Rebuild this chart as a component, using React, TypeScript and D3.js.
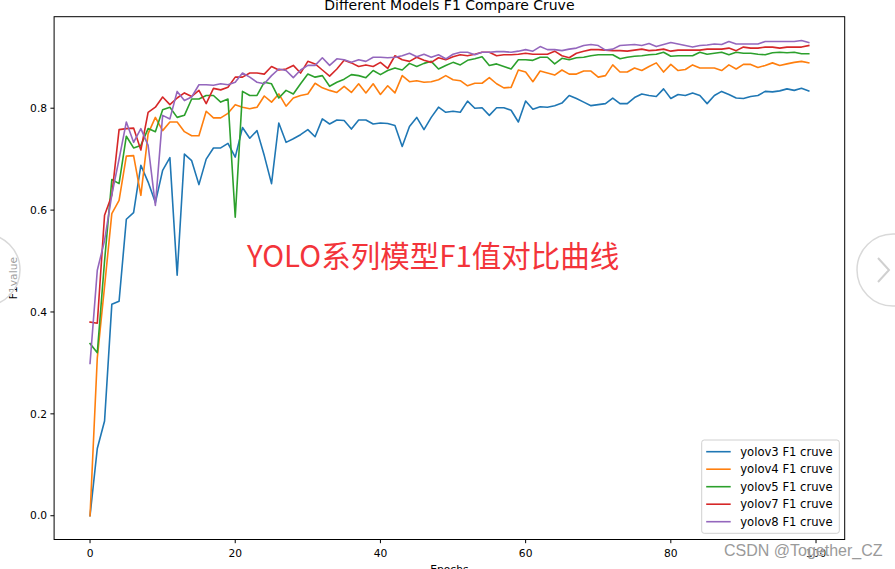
import React from "react";
import * as d3 from "d3";

const epochs: number[] = d3.range(100);

const yolov3: number[] = [
  0.0, 0.132, 0.186, 0.415, 0.421, 0.582, 0.595, 0.688, 0.655, 0.615,
  0.678, 0.703, 0.472, 0.71, 0.697, 0.65, 0.7, 0.722, 0.722, 0.731,
  0.704, 0.762, 0.741, 0.756, 0.707, 0.652, 0.771, 0.733, 0.74, 0.748,
  0.758, 0.744, 0.779, 0.769, 0.777, 0.776, 0.759, 0.777, 0.777, 0.769,
  0.771, 0.77, 0.766, 0.725, 0.764, 0.782, 0.758, 0.782, 0.802, 0.792,
  0.794, 0.792, 0.814, 0.8, 0.801, 0.786, 0.801, 0.801, 0.796, 0.773,
  0.814, 0.798, 0.803, 0.802, 0.805, 0.81, 0.825, 0.819, 0.812, 0.805,
  0.807, 0.809, 0.82, 0.809, 0.809, 0.821, 0.828, 0.825, 0.823, 0.838,
  0.819, 0.827, 0.825, 0.83, 0.825, 0.809, 0.825, 0.833, 0.827, 0.82,
  0.819, 0.823, 0.825, 0.833, 0.832, 0.834, 0.838, 0.835, 0.839, 0.834,
];

const yolov4: number[] = [
  0.0, 0.31, 0.45, 0.593, 0.619, 0.706, 0.707, 0.629, 0.75, 0.782,
  0.756, 0.773, 0.773, 0.754, 0.746, 0.746, 0.794, 0.781, 0.781, 0.79,
  0.807, 0.802, 0.799, 0.802, 0.824, 0.812, 0.828, 0.804, 0.82, 0.825,
  0.828, 0.849, 0.84, 0.835, 0.831, 0.843, 0.831, 0.848, 0.83, 0.848,
  0.827, 0.844, 0.83, 0.864, 0.852, 0.854, 0.851, 0.852, 0.856, 0.864,
  0.856, 0.854, 0.844, 0.849, 0.849, 0.86, 0.848, 0.84, 0.841, 0.875,
  0.871, 0.852, 0.873, 0.869, 0.865, 0.875, 0.867, 0.867, 0.873, 0.873,
  0.861, 0.864, 0.885, 0.871, 0.871, 0.879, 0.874, 0.882, 0.889, 0.871,
  0.886, 0.874, 0.876, 0.885, 0.879, 0.879, 0.879, 0.874, 0.885, 0.877,
  0.886, 0.886, 0.88, 0.884, 0.889, 0.884, 0.887, 0.89, 0.892, 0.889,
];

const yolov5: number[] = [
  0.338, 0.32, 0.5, 0.66, 0.652, 0.745, 0.722, 0.727, 0.76, 0.754,
  0.797, 0.802, 0.782, 0.786, 0.818, 0.818, 0.825, 0.825, 0.812, 0.818,
  0.586, 0.833, 0.825, 0.825, 0.851, 0.848, 0.82, 0.835, 0.828, 0.848,
  0.867, 0.861, 0.864, 0.843, 0.851, 0.857, 0.866, 0.864, 0.86, 0.874,
  0.866, 0.874, 0.879, 0.875, 0.888, 0.882, 0.888, 0.892, 0.877, 0.884,
  0.89, 0.885, 0.894, 0.897, 0.901, 0.884, 0.887, 0.882, 0.877, 0.895,
  0.895, 0.894, 0.9, 0.9, 0.887, 0.898, 0.895, 0.899, 0.9, 0.903,
  0.905, 0.905, 0.905, 0.897, 0.9, 0.902, 0.903, 0.905, 0.906, 0.91,
  0.902, 0.903, 0.903, 0.903, 0.91, 0.906, 0.908, 0.91, 0.905, 0.91,
  0.908, 0.908, 0.906, 0.905, 0.909, 0.91, 0.909, 0.91, 0.907, 0.907,
];

const yolov7: number[] = [
  0.38, 0.378, 0.59, 0.629, 0.758, 0.76, 0.761, 0.718, 0.792, 0.802,
  0.822, 0.807, 0.82, 0.83, 0.823, 0.835, 0.809, 0.839, 0.836, 0.841,
  0.861, 0.861, 0.869, 0.869, 0.867, 0.882, 0.875, 0.877, 0.884, 0.869,
  0.892, 0.887, 0.875, 0.863, 0.877, 0.894, 0.889, 0.882, 0.885, 0.882,
  0.89, 0.878, 0.903, 0.895, 0.892, 0.9, 0.894, 0.89, 0.899, 0.895,
  0.901, 0.905, 0.903, 0.906, 0.91, 0.91, 0.903, 0.905, 0.905, 0.906,
  0.908, 0.906, 0.906, 0.906, 0.912, 0.903, 0.899, 0.908, 0.912, 0.915,
  0.915, 0.914, 0.913, 0.913, 0.912, 0.914, 0.916, 0.913, 0.914, 0.916,
  0.912, 0.914, 0.914, 0.914, 0.914, 0.916, 0.916, 0.916, 0.918, 0.913,
  0.92, 0.918, 0.918, 0.92, 0.92, 0.918, 0.92, 0.92, 0.92, 0.923,
];

const yolov8: number[] = [
  0.299, 0.482, 0.54, 0.63, 0.7, 0.773, 0.733, 0.76, 0.727, 0.609,
  0.786, 0.779, 0.833, 0.815, 0.822, 0.846, 0.846, 0.845, 0.848, 0.846,
  0.851, 0.869, 0.861, 0.851, 0.848, 0.864, 0.877, 0.874, 0.86, 0.875,
  0.884, 0.884, 0.899, 0.884, 0.897, 0.895, 0.89, 0.895, 0.892, 0.9,
  0.9, 0.899, 0.9, 0.903, 0.908, 0.901, 0.906, 0.9, 0.905, 0.897,
  0.906, 0.91, 0.91, 0.905, 0.91, 0.91, 0.911, 0.911, 0.91, 0.912,
  0.915, 0.912, 0.921, 0.915, 0.915, 0.913, 0.916, 0.918, 0.923, 0.925,
  0.923, 0.914, 0.916, 0.923, 0.924, 0.925, 0.923, 0.927, 0.921, 0.925,
  0.929, 0.926, 0.923, 0.92, 0.923, 0.924, 0.926, 0.925, 0.931, 0.926,
  0.926, 0.926, 0.926, 0.931, 0.931, 0.931, 0.931, 0.931, 0.933, 0.929,
];

const seriesNames: string[] = [
  "yolov3 F1 cruve",
  "yolov4 F1 cruve",
  "yolov5 F1 cruve",
  "yolov7 F1 cruve",
  "yolov8 F1 cruve",
];
const seriesColors: string[] = ["#1f77b4", "#ff7f0e", "#2ca02c", "#d62728", "#9467bd"];
const xTicks: number[] = [0, 20, 40, 60, 80, 100];
const yTicks: number[] = [0.0, 0.2, 0.4, 0.6, 0.8];

const title = "Different Models F1 Compare Cruve";
const xLabel = "Epochs";
const yLabel = "F1value";
const overlayText = "YOLO系列模型F1值对比曲线";
const watermark = "CSDN @Together_CZ";

const W = 895;
const H = 569;
const plot = { left: 54.1, right: 844.7, top: 16.7, bottom: 539.5 };
const FONT = "'DejaVu Sans', sans-serif";

export default function App() {
  const allSeries = [yolov3, yolov4, yolov5, yolov7, yolov8];
  const allVals = allSeries.flat();
  const yMin = d3.min(allVals) as number;
  const yMax = d3.max(allVals) as number;
  const yPad = (yMax - yMin) * 0.05;
  const xPad = (d3.max(epochs)! - d3.min(epochs)!) * 0.05;

  const x = d3
    .scaleLinear()
    .domain([d3.min(epochs)! - xPad, d3.max(epochs)! + xPad])
    .range([plot.left, plot.right]);
  const y = d3
    .scaleLinear()
    .domain([yMin - yPad, yMax + yPad])
    .range([plot.bottom, plot.top]);

  const line = d3
    .line<number>()
    .x((_, i) => x(epochs[i]))
    .y((d) => y(d));

  const legendX = 701.7;
  const legendY = 440;
  const legendW = 137.6;
  const legendH = 93.3;
  const rowH = 17.5;

  return (
    <svg
      width={W}
      height={H}
      style={{ position: "absolute", left: 0, top: 0, background: "#fff" }}
      fontFamily={FONT}
    >
      <rect x={0} y={0} width={W} height={H} fill="#fff" />
      {allSeries.map((s, k) => (
        <path
          key={k}
          d={line(s) || ""}
          fill="none"
          stroke={seriesColors[k]}
          strokeWidth={1.6}
          strokeLinejoin="round"
          strokeLinecap="square"
        />
      ))}
      <rect
        x={plot.left}
        y={plot.top}
        width={plot.right - plot.left}
        height={plot.bottom - plot.top}
        fill="none"
        stroke="#000"
        strokeWidth={1}
      />
      {xTicks.map((t) => (
        <g key={"x" + t} transform={`translate(${x(t)},${plot.bottom})`}>
          <line y1={0} y2={3.7} stroke="#000" strokeWidth={1} />
          <text y={17.5} textAnchor="middle" fontSize={10.7} fill="#000">
            {t}
          </text>
        </g>
      ))}
      {yTicks.map((t) => (
        <g key={"y" + t} transform={`translate(${plot.left},${y(t)})`}>
          <line x1={0} x2={-3.7} stroke="#000" strokeWidth={1} />
          <text x={-7} dy="0.35em" textAnchor="end" fontSize={10.7} fill="#000">
            {t.toFixed(1)}
          </text>
        </g>
      ))}
      <text x={(plot.left + plot.right) / 2} y={10} textAnchor="middle" fontSize={14} fill="#000">
        {title}
      </text>
      <text x={(plot.left + plot.right) / 2} y={573} textAnchor="middle" fontSize={10.7} fill="#000">
        {xLabel}
      </text>
      <text
        transform={`translate(${17},${(plot.top + plot.bottom) / 2}) rotate(-90)`}
        textAnchor="middle"
        fontSize={10.7}
        fill="#000"
      >
        {yLabel}
      </text>
      <rect
        x={legendX}
        y={legendY}
        width={legendW}
        height={legendH}
        rx={2.5}
        fill="#fff"
        fillOpacity={0.8}
        stroke="#d0d0d0"
        strokeWidth={1}
      />
      {seriesNames.map((n, k) => (
        <g key={n} transform={`translate(${legendX},${legendY + 11.7 + k * rowH})`}>
          <line x1={4.5} x2={29} stroke={seriesColors[k]} strokeWidth={1.6} />
          <text x={38.5} dy="0.35em" fontSize={11.6} fill="#000">
            {n}
          </text>
        </g>
      ))}
      <text
        x={247}
        y={267}
        fontSize={29.5}
        fill="#f3343a"
        fontFamily="'Noto Sans CJK SC', 'Noto Sans', sans-serif"
      >
        {overlayText}
      </text>
      <g>
        <circle cx={-16} cy={270} r={36} fill="#fff" fillOpacity={0.6} stroke="#d9d9d9" strokeWidth={1.5} />
        <circle cx={893} cy={270} r={36} fill="#fff" fillOpacity={0.6} stroke="#d9d9d9" strokeWidth={1.5} />
        <path d="M878,258 L889,270 L878,282" fill="none" stroke="#d0d0d0" strokeWidth={2} />
      </g>
      <text
        x={724}
        y={556}
        fontSize={16}
        fill="#9a9a9a"
        stroke="#fff"
        strokeWidth={0.6}
        paintOrder="stroke"
        fontFamily="'Liberation Sans', Arial, sans-serif"
      >
        {watermark}
      </text>
    </svg>
  );
}
